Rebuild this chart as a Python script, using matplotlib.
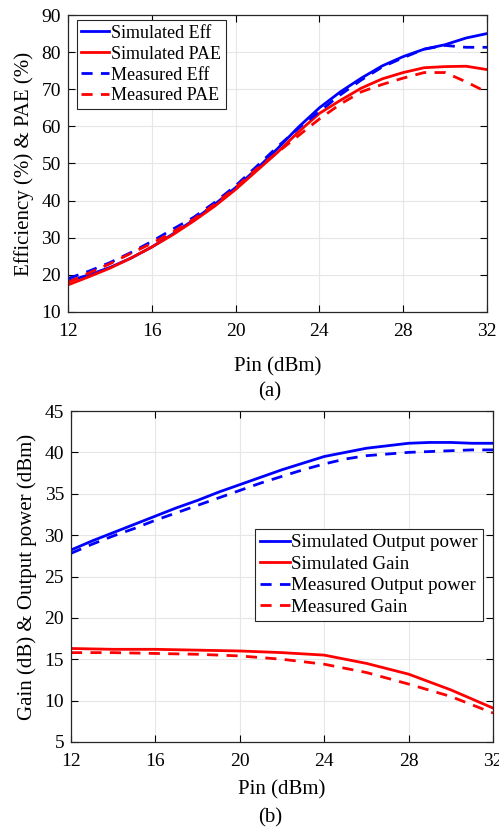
import numpy as np
import matplotlib
matplotlib.use('Agg')
import matplotlib.pyplot as plt

plt.rcParams['font.family'] = ['Liberation Serif', 'DejaVu Serif']
plt.rcParams['mathtext.fontset'] = 'stix'

# ---- data (a) ----
pin = [12, 13, 14, 15, 16, 17, 18, 19, 20, 21, 22, 23, 24, 25, 26, 27, 28, 29, 30, 31, 32]
sim_eff = [18.3, 20.0, 22.0, 24.5, 27.5, 31.0, 34.8, 39.0, 43.5, 48.5, 54.0, 59.8, 65.0,
           69.3, 73.0, 76.3, 78.8, 80.8, 82.0, 83.8, 85.0]
meas_eff = [19.0, 21.0, 23.3, 26.0, 29.0, 32.3, 35.5, 39.5, 44.0, 49.2, 54.5, 59.5, 64.0,
            68.5, 72.5, 76.0, 78.5, 80.8, 81.8, 81.3, 81.3]
sim_pae = [17.3, 19.5, 21.8, 24.5, 27.5, 30.8, 34.5, 38.5, 43.0, 48.0, 53.0, 58.5, 63.5,
           67.0, 70.3, 72.8, 74.5, 75.8, 76.1, 76.2, 75.3]
meas_pae = [18.0, 20.5, 23.0, 25.8, 28.5, 31.5, 35.0, 39.0, 43.5, 48.5, 53.0, 57.5, 62.0,
            66.0, 69.3, 71.3, 73.0, 74.5, 74.5, 72.0, 69.2]

# ---- data (b) ----
sim_pout = [28.2, 29.3, 30.3, 31.3, 32.3, 33.3, 34.2, 35.2, 36.1, 37.0, 37.9, 38.7, 39.5,
            40.0, 40.5, 40.8, 41.1, 41.2, 41.2, 41.1, 41.1]
meas_pout = [27.8, 28.9, 29.9, 30.8, 31.8, 32.7, 33.6, 34.5, 35.4, 36.3, 37.1, 37.9, 38.6,
             39.2, 39.6, 39.8, 40.0, 40.1, 40.2, 40.3, 40.3]
pin_g = [12, 14, 16, 18, 20, 22, 24, 26, 28, 30, 32]
sim_gain = [16.3, 16.2, 16.2, 16.1, 16.0, 15.8, 15.5, 14.5, 13.2, 11.3, 9.1]
meas_gain = [15.8, 15.8, 15.7, 15.6, 15.4, 15.0, 14.4, 13.4, 12.0, 10.5, 8.5]

W, H = 499, 834
fig = plt.figure(figsize=(W / 100, H / 100), dpi=100)

def box(l, t, r, b):
    return [l / W, 1 - b / H, (r - l) / W, (b - t) / H]

def style_ax(ax):
    ax.grid(True, color='#e6e6e6', lw=0.8)
    ax.set_axisbelow(True)
    ax.tick_params(direction='in', top=True, right=True, labelsize=14, length=5, width=0.8)
    ax.tick_params(axis='x', pad=8)
    ax.tick_params(axis='y', pad=5)
    for s in ax.spines.values():
        s.set_linewidth(0.9)
        s.set_color('#262626')

dash = (0, (4, 3))
leg_kw = dict(frameon=True, fancybox=False, edgecolor='#262626',
              handlelength=1.55, handletextpad=0.1, borderpad=0.25,
              labelspacing=0.22, borderaxespad=0, framealpha=1)

ax1 = fig.add_axes(box(68, 15, 487, 312))
ax1.plot(pin, sim_eff, color='#0000ff', lw=2, label='Simulated Eff')
ax1.plot(pin, sim_pae, color='#ff0000', lw=2, label='Simulated PAE')
ax1.plot(pin, meas_eff, color='#0000ff', lw=2, ls=dash, label='Measured Eff')
ax1.plot(pin, meas_pae, color='#ff0000', lw=2, ls=dash, label='Measured PAE')
ax1.set_xlim(12, 32)
ax1.set_ylim(10, 90)
ax1.set_xticks([12, 16, 20, 24, 28, 32])
ax1.set_yticks(np.arange(10, 91, 10))
ax1.set_xlabel('Pin (dBm)', fontsize=15, labelpad=12)
ax1.set_ylabel('Efficiency (%) & PAE (%)', fontsize=15, labelpad=5)
style_ax(ax1)
leg1 = ax1.legend(loc='upper left', bbox_to_anchor=(0.021, 0.983), fontsize=13, **leg_kw)
leg1.get_frame().set_linewidth(0.8)
fig.text(270 / W, 1 - 392 / H, '(a)', ha='center', va='center', fontsize=15)

ax2 = fig.add_axes(box(71, 411, 493, 742))
ax2.plot(pin, sim_pout, color='#0000ff', lw=2, label='Simulated Output power')
ax2.plot(pin_g, sim_gain, color='#ff0000', lw=2, label='Simulated Gain')
ax2.plot(pin, meas_pout, color='#0000ff', lw=2, ls=dash, label='Measured Output power')
ax2.plot(pin_g, meas_gain, color='#ff0000', lw=2, ls=dash, label='Measured Gain')
ax2.set_xlim(12, 32)
ax2.set_ylim(5, 45)
ax2.set_xticks([12, 16, 20, 24, 28, 32])
ax2.set_yticks(np.arange(5, 46, 5))
ax2.set_xlabel('Pin (dBm)', fontsize=15, labelpad=7)
ax2.set_ylabel('Gain (dB) & Output power (dBm)', fontsize=15, labelpad=5)
style_ax(ax2)
leg2 = ax2.legend(loc='upper right', bbox_to_anchor=(0.976, 0.643), fontsize=13.7, **leg_kw)
leg2.get_frame().set_linewidth(0.8)
fig.text(270 / W, 1 - 818 / H, '(b)', ha='center', va='center', fontsize=15)

fig.savefig('out.png', dpi=100)
